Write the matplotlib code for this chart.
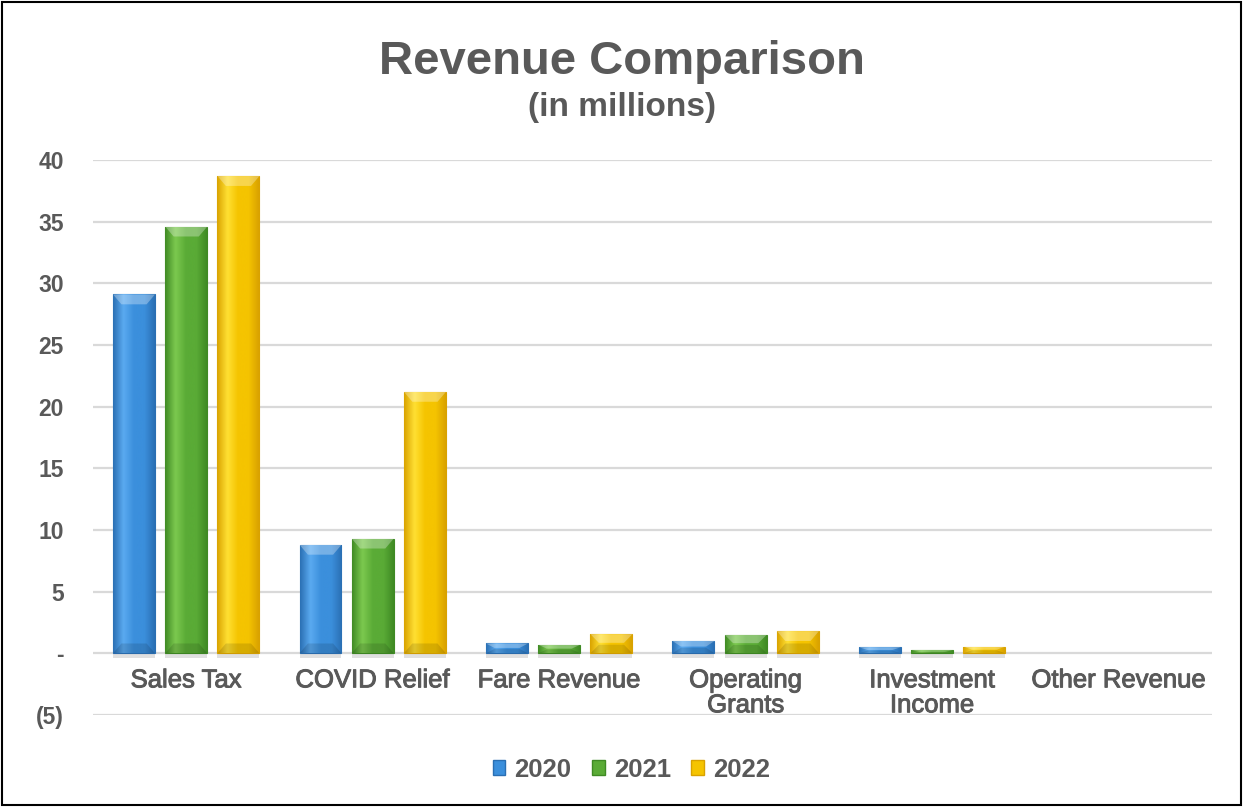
import matplotlib.pyplot as plt
import numpy as np
from matplotlib import patheffects
from matplotlib.colors import LinearSegmentedColormap
from matplotlib.patches import Polygon, Rectangle
from matplotlib.transforms import ScaledTranslation


CATEGORIES = ["Sales Tax", "COVID Relief", "Fare Revenue", "Operating\nGrants",
              "Investment\nIncome", "Other Revenue"]
YEARS = ["2020", "2021", "2022"]
REV_2020 = [29.1, 8.8, 0.8, 1.0, 0.5, 0.0]
REV_2021 = [34.6, 9.3, 0.7, 1.5, 0.25, 0.0]
REV_2022 = [38.7, 21.2, 1.55, 1.8, 0.55, 0.0]
Y_TICKS = [-5, 0, 5, 10, 15, 20, 25, 30, 35, 40]
Y_TICK_LABELS = ["(5)", "-", "5", "10", "15", "20", "25", "30", "35", "40"]

TEXT_COLOR = "#595959"
# edge / highlight / body shades for each year's bevelled bars
SHADES = [
    ("#2a6fb3", "#5aaaf0", "#3b8fdc"),
    ("#3f8a24", "#7cc94f", "#5aab36"),
    ("#d9a200", "#ffe033", "#f5c400"),
]

plt.rcParams["font.family"] = ["Liberation Sans", "DejaVu Sans"]


def bevel_bar(ax, x0, width, height, shades):
    if height == 0:
        return
    edge, light, mid = shades
    cmap = LinearSegmentedColormap.from_list("bevel", [edge, light, mid, mid, edge])
    grad = np.linspace(0, 1, 256).reshape(1, -1)
    rect = Rectangle((x0, 0), width, height, facecolor=mid, edgecolor=edge,
                     linewidth=0.8, zorder=3)
    ax.add_patch(rect)
    img = ax.imshow(grad, cmap=cmap, aspect="auto", zorder=3.5,
                    extent=(x0, x0 + width, 0, height), interpolation="bicubic")
    img.set_clip_path(rect)
    # chamfered top and bottom faces
    cap = min(0.8, height * 0.45)
    d = 0.045
    top = Polygon([(x0, height), (x0 + width, height), (x0 + width - d, height - cap),
                   (x0 + d, height - cap)], facecolor="white", edgecolor="none",
                  alpha=0.3, zorder=4)
    bottom = Polygon([(x0, 0), (x0 + width, 0), (x0 + width - d, cap),
                      (x0 + d, cap)], facecolor="black", edgecolor="none",
                     alpha=0.12, zorder=4)
    ax.add_patch(top)
    ax.add_patch(bottom)
    # soft shadow just under the base line
    ax.add_patch(Rectangle((x0, -0.4), width, 0.35, facecolor="#a8a8a8",
                           edgecolor="none", alpha=0.35, zorder=2))


fig = plt.figure(figsize=(12.43, 8.07), dpi=100)
ax = fig.add_axes([0.0748, 0.114, 0.9002, 0.6877])

x = np.arange(len(CATEGORIES))
bar_w = 0.225
offset = 0.28
series = [REV_2020, REV_2021, REV_2022]
for i, values in enumerate(series):
    for xi, v in zip(x + (i - 1) * offset, values):
        bevel_bar(ax, xi - bar_w / 2, bar_w, v, SHADES[i])

ax.set_xlim(-0.5, len(CATEGORIES) - 0.5)
ax.set_ylim(-5, 40)
ax.set_yticks(Y_TICKS)
ax.set_yticklabels(Y_TICK_LABELS)
ax.set_xticks([])
ax.tick_params(axis="y", length=0, colors=TEXT_COLOR, labelsize=16.5, pad=21)
for lab in ax.get_yticklabels():
    lab.set_fontweight("bold")

# category labels hang just under the zero line
label_shift = ScaledTranslation(0, -0.15, fig.dpi_scale_trans)
heavier = [patheffects.withStroke(linewidth=0.7, foreground=TEXT_COLOR)]
for xi, name in zip(x, CATEGORIES):
    ax.text(xi, 0, name, ha="center", va="top", fontsize=18.5,
            color=TEXT_COLOR, linespacing=1.05, path_effects=heavier,
            transform=ax.transData + label_shift)

ax.grid(axis="y", color="#d9d9d9", linewidth=1.6, zorder=0)
ax.set_axisbelow(True)
for spine in ax.spines.values():
    spine.set_visible(False)

fig.text(0.5, 0.923, "Revenue Comparison", ha="center", va="center",
         fontsize=34, fontweight="bold", color=TEXT_COLOR)
fig.text(0.5, 0.867, "(in millions)", ha="center", va="center",
         fontsize=24, fontweight="bold", color=TEXT_COLOR)

handles = [Rectangle((0, 0), 1, 1, facecolor=s[2], edgecolor=s[0]) for s in SHADES]
fig.legend(handles, YEARS, loc="center", bbox_to_anchor=(0.508, 0.046), ncol=3,
           frameon=False, handlelength=0.5, handleheight=0.5, handletextpad=0.35,
           columnspacing=0.8, prop={"size": 18.5, "weight": "bold"},
           labelcolor=TEXT_COLOR)

fig.add_artist(Rectangle((0.002, 0.002), 0.996, 0.996, transform=fig.transFigure,
                         fill=False, edgecolor="black", linewidth=1.5))

fig.savefig("out.png", dpi=100)
